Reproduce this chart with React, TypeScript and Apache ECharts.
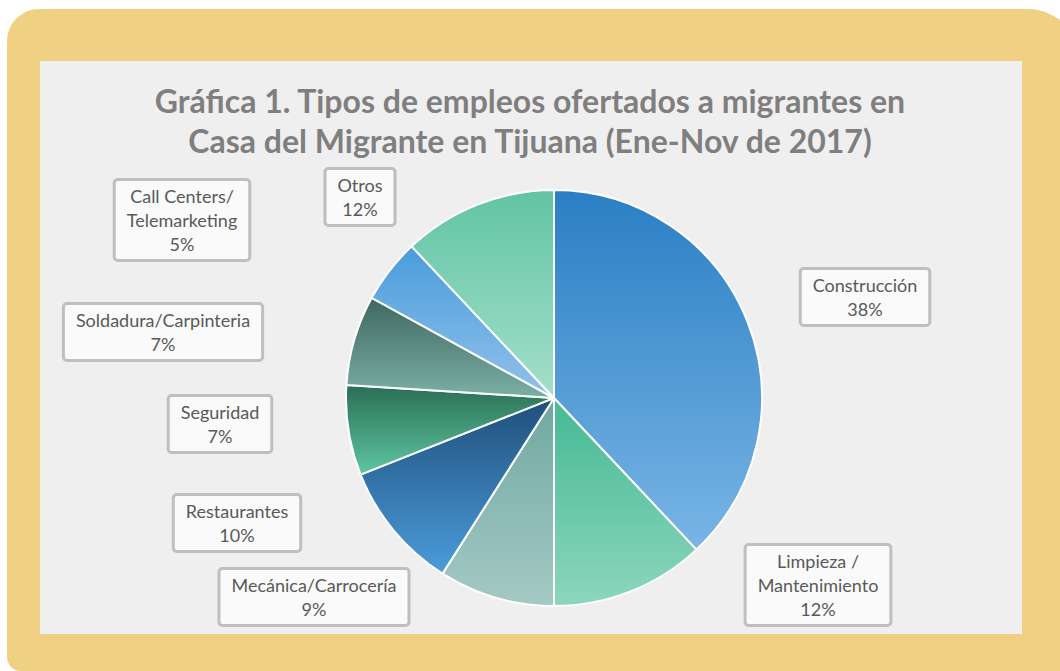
import React, { useEffect, useRef } from "react";
import * as echarts from "echarts";

const categories = [
  "Construcción",
  "Limpieza /\nMantenimiento",
  "Mecánica/Carrocería",
  "Restaurantes",
  "Seguridad",
  "Soldadura/Carpinteria",
  "Call Centers/\nTelemarketing",
  "Otros",
];
const values = [38, 12, 9, 10, 7, 7, 5, 12];

const gradientTop = ["#2A7FC4", "#45BA94", "#6EA8A0", "#1F4F7A", "#2A6E55", "#3F6860", "#4A9CDC", "#62C4A4"];
const gradientBottom = ["#79B5E5", "#8DD6BE", "#A5C9C5", "#4B9CDC", "#5EC6A2", "#7BAFA6", "#92C2EA", "#A4DFCC"];

// label box centres (layout only)
const labelPos: [number, number][] = [
  [865, 297],
  [818, 585],
  [314, 597],
  [237, 523],
  [220, 424],
  [163, 332],
  [182, 220],
  [360, 197],
];

export default function App() {
  const ref = useRef<HTMLDivElement>(null);
  useEffect(() => {
    const chart = echarts.init(ref.current!, undefined, { renderer: "svg" });
    const option: any = {
      animation: false,
      backgroundColor: "#FFFFFF",
      graphic: [
        {
          type: "rect",
          z: -10,
          shape: { x: 7, y: 9, width: 1075, height: 662, r: [32, 55, 14, 14] },
          style: { fill: "#F0D083" },
        },
        {
          type: "rect",
          z: -9,
          shape: { x: 40, y: 61, width: 982, height: 573 },
          style: { fill: "#EFEFEF" },
        },
      ],
      title: {
        text: "Gráfica 1. Tipos de empleos ofertados a migrantes en\nCasa del Migrante en Tijuana (Ene-Nov de 2017)",
        left: "center",
        top: 75,
        textStyle: {
          fontFamily: "Lato",
          fontWeight: "bold",
          fontSize: 32,
          lineHeight: 40,
          color: "#7F7F7F",
          align: "center",
        },
      },
      series: [
        {
          type: "pie",
          center: [554, 398],
          radius: 208,
          startAngle: 90,
          clockwise: true,
          avoidLabelOverlap: false,
          data: categories.map((name, i) => ({
            name,
            value: values[i],
            itemStyle: {
              color: new echarts.graphic.LinearGradient(0, 0, 0, 1, [
                { offset: 0, color: gradientTop[i] },
                { offset: 1, color: gradientBottom[i] },
              ]),
            },
          })),
          itemStyle: { borderColor: "#FFFFFF", borderWidth: 2 },
          label: {
            show: true,
            position: "outside",
            formatter: "{b}\n{c}%",
            fontFamily: "Lato",
            fontSize: 18,
            lineHeight: 24,
            color: "#595959",
            backgroundColor: "#FAFAFA",
            borderColor: "#BFBFBF",
            borderWidth: 3,
            borderRadius: 2,
            padding: [3, 11, 3, 11],
            align: "center",
          },
          labelLine: { show: false },
          labelLayout: (params: any) => {
            const p = labelPos[params.dataIndex];
            return { x: p[0], y: p[1], align: "center", verticalAlign: "middle" };
          },
          emphasis: { disabled: true },
        },
      ],
    };
    chart.setOption(option);
    return () => chart.dispose();
  }, []);
  return (
    <div
      ref={ref}
      style={{ position: "absolute", left: 0, top: 0, width: 1060, height: 671 }}
    />
  );
}
